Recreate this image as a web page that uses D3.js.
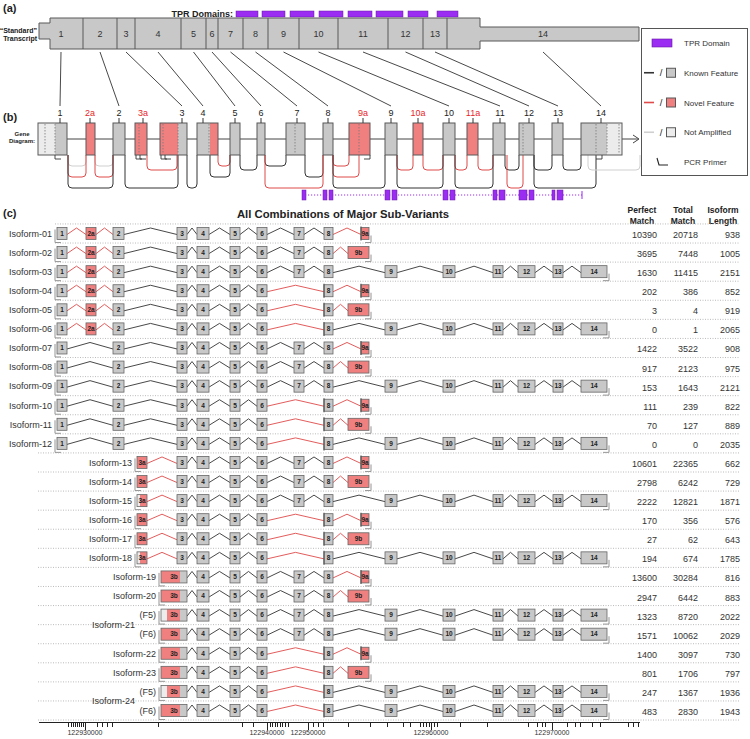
<!DOCTYPE html>
<html><head><meta charset="utf-8">
<script src="https://cdn.jsdelivr.net/npm/d3@7"></script>
<style>body{margin:0;background:#fff} svg{display:block;font-family:"Liberation Sans",Arial,Helvetica,sans-serif}</style>
</head><body><svg id="chart" width="750" height="739"></svg>
<script>
// ---------------- DATA ----------------
// (a) "Standard" transcript (transcript axis units)
const stdExonLabels = ["1","2","3","4","5","6","7","8","9","10","11","12","13","14"];
const stdExonBounds = [-1,43,77,95,141,166,178,203,228,259,298,348,383,407,599];
const stdBody = [10, 440];
const tprDomainsStd = [[196,218],[222,245],[250,274],[279,303],[308,332],[336,363],[368,388],[397,418]];

// (b) gene diagram features (compressed genomic axis units)
const geneFeatureNames = ["1","2a","2","3a","3","4","5","6","7","8","9a","9","10a","10","11a","11","12","13","14"];
const geneFeatureSegments = [
  [[-2,15,"na"],[15,27,"known"]],
  [[46,55,"novel"]],
  [[73,85,"known"]],
  [[95,107,"novel"]],
  [[120,138,"novel"],[138,147,"known"]],
  [[157,170,"known"],[170,178,"novel"]],
  [[190,200,"known"]],
  [[217,225,"known"]],
  [[246,265,"known"]],
  [[283,293,"known"]],
  [[309,330,"novel"]],
  [[345,357,"known"]],
  [[373,383,"novel"]],
  [[403,415,"known"]],
  [[427,438,"novel"]],
  [[453,465,"known"]],
  [[479,494,"known"]],
  [[512,523,"known"]],
  [[541,567,"known"],[567,582,"na"]]
];
const geneFeatureDots = [[5,15],[],[],[99],[123,138],[169],[],[],[255],[],[319],[],[],[],[],[],[483],[],[556,567,579]];
const geneFeatureLabelPos = [20,50,79,103,142,163,195,221,257,288,323,351,378,409,433,460,489,518,561];
const geneFeatureNovel = [0,1,0,1,0,0,0,0,0,0,1,0,1,0,1,0,0,0,0];
// splice junction arcs: [from, to, depth level, type]
const spliceArcs = [
  [28,46,0,"na"],[55,73,0,"na"],
  [28,46,2,"novel"],[55,73,2,"novel"],
  [28,73,3,"known"],
  [107,137,1,"novel"],
  [85,138,3,"known"],
  [147,157,3,"known"],
  [178,190,0,"novel"],
  [170,190,2,"known"],
  [200,217,1,"known"],
  [225,246,0,"known"],
  [265,283,2,"known"],
  [225,283,3,"novel"],
  [293,309,0,"novel"],
  [293,319,2,"novel"],
  [293,345,3,"known"],
  [357,373,1,"novel"],[383,403,1,"novel"],[357,403,3,"known"],
  [415,427,1,"novel"],[438,453,1,"novel"],[415,453,3,"known"],
  [465,479,1,"known"],[467,483,3,"novel"],
  [494,512,1,"known"],[523,541,1,"known"],[494,556,3,"known"],
  [548,600,1,"na"]
];
// PCR primer marks under the gene diagram: [position, direction]
const genePrimers = [[15,1],[96,1],[100,1],[121,1],[125,1],[330,-1],[562,-1]];
const tprDomainsGene = [[262,266],[283,287],[289,293],[345,350],[352,357],[403,408],[410,415],[453,457],[459,465],[479,487],[489,494],[512,515],[517,523]];
const tprGeneSpan = [262,542];

// (c) isoforms
const exonCoords = {
  "1":[17,27],"2a":[46,56],"2":[73,84],"3a":[97,107],"3b":[121,147],"3":[137,147],
  "4":[157,169],"5":[190,200],"6":[217,227],"7":[254,264],"8":[284,293],
  "9a":[321,329],"9b":[308,329],"9":[345,357],"10":[403,415],"11":[453,463],
  "12":[478,495],"13":[513,523],"14":[541,567]
};
const novelExons = ["2a","3a","9a","9b"];
const isoformLabels = ["Isoform-01","Isoform-02","Isoform-03","Isoform-04","Isoform-05","Isoform-06",
  "Isoform-07","Isoform-08","Isoform-09","Isoform-10","Isoform-11","Isoform-12",
  "Isoform-13","Isoform-14","Isoform-15","Isoform-16","Isoform-17","Isoform-18",
  "Isoform-19","Isoform-20","(F5)","(F6)","Isoform-22","Isoform-23","(F5)","(F6)"];
const isoformGroups = [["Isoform-21",20,21],["Isoform-24",24,25]];
const isoformExons = [
  "1 2a 2 3 4 5 6 7 8 9a",
  "1 2a 2 3 4 5 6 7 8 9b",
  "1 2a 2 3 4 5 6 7 8 9 10 11 12 13 14",
  "1 2a 2 3 4 5 6 8 9a",
  "1 2a 2 3 4 5 6 8 9b",
  "1 2a 2 3 4 5 6 8 9 10 11 12 13 14",
  "1 2 3 4 5 6 7 8 9a",
  "1 2 3 4 5 6 7 8 9b",
  "1 2 3 4 5 6 7 8 9 10 11 12 13 14",
  "1 2 3 4 5 6 8 9a",
  "1 2 3 4 5 6 8 9b",
  "1 2 3 4 5 6 8 9 10 11 12 13 14",
  "3a 3 4 5 6 7 8 9a",
  "3a 3 4 5 6 7 8 9b",
  "3a 3 4 5 6 7 8 9 10 11 12 13 14",
  "3a 3 4 5 6 8 9a",
  "3a 3 4 5 6 8 9b",
  "3a 3 4 5 6 8 9 10 11 12 13 14",
  "3b 4 5 6 7 8 9a",
  "3b 4 5 6 7 8 9b",
  "3b 4 5 6 7 8 9 10 11 12 13 14",
  "3b 4 5 6 7 8 9 10 11 12 13 14",
  "3b 4 5 6 8 9a",
  "3b 4 5 6 8 9b",
  "3b 4 5 6 8 9 10 11 12 13 14",
  "3b 4 5 6 8 9 10 11 12 13 14"
];
const notAmplifiedStart = [0,0,0,0,0,0,0,0,0,0,0,0,0,0,1,0,0,1,0,0,1,0,0,0,1,0];
const perfectMatch = [10390,3695,1630,202,3,0,1422,917,153,111,70,0,10601,2798,2222,170,27,194,13600,2947,1323,1571,1400,801,247,483];
const totalMatch = [20718,7448,11415,386,4,1,3522,2123,1643,239,127,0,22365,6242,12821,356,62,674,30284,6442,8720,10062,3097,1706,1367,2830];
const isoformLength = [938,1005,2151,852,919,2065,908,975,2121,822,889,2035,662,729,1871,576,643,1785,816,883,2022,2029,730,797,1936,1943];
const axisMajorPos = [45,227,268,391,512];
const axisMajorLabels = ["122930000","122940000","122950000","122960000","122970000"];
const axisMinorPos = [28,31,33,35,37,39,41,43,57,62,67,72,118,202,213,230,232,235,237,240,242,245,248,273,278,283,308,330,347,363,370,380,383,386,389,394,397,420,447,488,497,502,505,527,535,540,552,560,588,593,598];
const legendItems = ["TPR Domain","Known Feature","Novel Feature","Not Amplified","PCR Primer"];

// ---------------- STYLE ----------------
const COL = {grey:"#c8c8c8", pink:"#f08080", light:"#ececec", stroke:"#585858",
  red:"#e04a4a", redText:"#e8262a", black:"#333", lightLine:"#cfcfcf",
  purple:"#9b2cf2", purpleStroke:"#6a1aa8", text:"#222"};
const fillOf = t => t==="novel" ? COL.pink : t==="na" ? COL.light : COL.grey;
const lineOf = t => t==="novel" ? COL.red : t==="na" ? COL.lightLine : COL.black;

const svg = d3.select("#chart");
const xg = d3.scaleLinear().domain([0,600]).range([40,640]);
const xt = d3.scaleLinear().domain([0,600]).range([40,640]);

function label(g, x, y, txt, opt={}) {
  return g.append("text").attr("x",x).attr("y",y).text(txt)
    .attr("font-size",opt.size||9).attr("font-weight",opt.bold?"bold":"normal")
    .attr("text-anchor",opt.anchor||"start").attr("fill",opt.fill||COL.text);
}

// ---------------- (a) ----------------
const gA = svg.append("g");
label(gA, 3, 12, "(a)", {size:11, bold:true});
label(gA, xt(193), 17, "TPR Domains:", {size:9, bold:true, anchor:"end"});
gA.selectAll("rect.tprA").data(tprDomainsStd).join("rect")
  .attr("x",d=>xt(d[0])).attr("y",11).attr("width",d=>xt(d[1])-xt(d[0])).attr("height",6)
  .attr("fill",COL.purple).attr("stroke",COL.purpleStroke).attr("stroke-width",0.5);
{
  const a0 = xt(stdExonBounds[0]), a1 = xt(stdBody[0]), a2 = xt(stdBody[1]), a3 = xt(stdExonBounds[stdExonBounds.length-1]);
  const p = d3.path();
  p.moveTo(a0,23); p.lineTo(a1,23); p.lineTo(a1,18); p.lineTo(a2,18); p.lineTo(a2,27); p.lineTo(a3,27);
  p.lineTo(a3,41); p.lineTo(a2,41); p.lineTo(a2,49); p.lineTo(a1,49); p.lineTo(a1,39); p.lineTo(a0,39); p.closePath();
  gA.append("path").attr("d",p.toString()).attr("fill",COL.grey).attr("stroke",COL.stroke).attr("stroke-width",1);
  gA.selectAll("line.div").data(stdExonBounds.slice(1,-1)).join("line")
    .attr("x1",d=>xt(d)).attr("x2",d=>xt(d)).attr("y1",18).attr("y2",49).attr("stroke",COL.stroke);
  stdExonLabels.forEach((t,i)=>{
    label(gA, xt((stdExonBounds[i]+stdExonBounds[i+1])/2), 37, t, {anchor:"middle", fill:"#333"});
  });
  label(gA, 37, 33, "\u201CStandard\u201D", {size:7, bold:true, anchor:"end"});
  label(gA, 37, 41, "Transcript", {size:7, bold:true, anchor:"end"});
}

// connectors (a) -> (b)
stdExonLabels.forEach((t,i)=>{
  const j = geneFeatureNames.indexOf(t);
  svg.append("line").attr("x1",xt((stdExonBounds[i]+stdExonBounds[i+1])/2)).attr("y1",52)
    .attr("x2",xg(geneFeatureLabelPos[j])).attr("y2",106).attr("stroke","#333").attr("stroke-width",0.9);
});

// ---------------- (b) ----------------
const gB = svg.append("g");
label(gB, 3, 121, "(b)", {size:11, bold:true});
label(gB, 22, 136, "Gene", {size:6, bold:true, anchor:"middle"});
label(gB, 22, 143, "Diagram:", {size:6, bold:true, anchor:"middle"});
const bTop = 123, bBot = 155, bMid = 139;
gB.append("line").attr("x1",xg(-2)).attr("x2",xg(598)).attr("y1",bMid).attr("y2",bMid).attr("stroke","#444");
gB.append("path").attr("d",`M${xg(593)},${bMid-4}L${xg(599)},${bMid}L${xg(593)},${bMid+4}`).attr("fill","none").attr("stroke","#444");
// arcs
const arcDepth = d3.scaleOrdinal().domain([0,1,2,3]).range([166,170,177,188]);
spliceArcs.forEach(([a,b,lev,t])=>{
  const xa=xg(a), xb=xg(b), yd=arcDepth(lev), r=Math.min(4,(xb-xa)/2);
  const p=d3.path();
  p.moveTo(xa,bBot); p.lineTo(xa,yd-r); p.quadraticCurveTo(xa,yd,xa+r,yd); p.lineTo(xb-r,yd);
  p.quadraticCurveTo(xb,yd,xb,yd-r); p.lineTo(xb,bBot);
  gB.append("path").attr("d",p.toString()).attr("fill","none").attr("stroke",lineOf(t)).attr("stroke-width",1);
});
geneFeatureNames.forEach((nm,i)=>{
  const segs = geneFeatureSegments[i];
  segs.forEach(s=>{
    gB.append("rect").attr("x",xg(s[0])).attr("y",bTop).attr("width",xg(s[1])-xg(s[0])).attr("height",bBot-bTop)
      .attr("fill",fillOf(s[2]));
  });
  geneFeatureDots[i].forEach(d=>{
    gB.append("line").attr("x1",xg(d)).attr("x2",xg(d)).attr("y1",bTop+1).attr("y2",bBot-1)
      .attr("stroke","#777").attr("stroke-width",0.8).attr("stroke-dasharray","1.5,1.5");
  });
  const s0=segs[0][0], s1=segs[segs.length-1][1];
  gB.append("rect").attr("x",xg(s0)).attr("y",bTop).attr("width",xg(s1)-xg(s0)).attr("height",bBot-bTop)
    .attr("fill","none").attr("stroke",COL.stroke).attr("stroke-width",1);
  const lx = xg(geneFeatureLabelPos[i]);
  gB.append("line").attr("x1",lx).attr("x2",lx).attr("y1",118).attr("y2",bTop).attr("stroke","#333");
  label(gB, lx, 116, nm, {anchor:"middle", fill: geneFeatureNovel[i]?COL.redText:"#222"});
});
genePrimers.forEach(([x,dir])=>{
  const px=xg(x);
  gB.append("path").attr("d",`M${px},${bBot}V${bBot+4}H${px+dir*6}`).attr("fill","none").attr("stroke","#333").attr("stroke-width",0.9);
});
// TPR track under gene
gB.append("line").attr("x1",xg(tprGeneSpan[0])).attr("x2",xg(tprGeneSpan[1])).attr("y1",195).attr("y2",195)
  .attr("stroke",COL.purple).attr("stroke-dasharray","1.2,1.8");
gB.append("line").attr("x1",xg(tprGeneSpan[1])).attr("x2",xg(tprGeneSpan[1])).attr("y1",191).attr("y2",199).attr("stroke",COL.purple);
gB.selectAll("rect.tprB").data(tprDomainsGene).join("rect")
  .attr("x",d=>xg(d[0])).attr("y",190).attr("width",d=>xg(d[1])-xg(d[0])).attr("height",10)
  .attr("fill",COL.purple).attr("stroke",COL.purpleStroke).attr("stroke-width",0.5);

// ---------------- legend ----------------
const gL = svg.append("g");
gL.append("rect").attr("x",641.5).attr("y",28.5).attr("width",106).attr("height",147).attr("fill","#fff").attr("stroke","#555");
const legY = d3.scalePoint().domain(legendItems).range([43,162]);
legendItems.forEach((it,i)=>{
  const y = legY(it);
  if (i===0) {
    gL.append("rect").attr("x",652).attr("y",y-4).attr("width",20).attr("height",8).attr("fill",COL.purple).attr("stroke",COL.purpleStroke).attr("stroke-width",0.6);
  } else if (i<4) {
    const t = ["known","novel","na"][i-1];
    gL.append("line").attr("x1",644).attr("x2",654).attr("y1",y).attr("y2",y).attr("stroke",lineOf(t)).attr("stroke-width",1.6);
    label(gL, 661, y+3.5, "/", {anchor:"middle", size:9.5});
    gL.append("rect").attr("x",666.5).attr("y",y-4.5).attr("width",9).attr("height",9).attr("fill",fillOf(t)).attr("stroke",COL.stroke);
  } else {
    gL.append("path").attr("d",`M657,${y-4}L659,${y+3}H668`).attr("fill","none").attr("stroke","#222").attr("stroke-width",1.1);
  }
  label(gL, 684, y+3, it, {size:8, fill:"#333"});
});

// ---------------- (c) ----------------
const gC = svg.append("g");
label(gC, 3, 217, "(c)", {size:11, bold:true});
label(gC, 343, 218, "All Combinations of Major Sub-Variants", {size:11.3, bold:true, anchor:"middle"});
const colX = [657, 698, 740];
const headers = [["Perfect","Match"],["Total","Match"],["Isoform","Length"]];
headers.forEach((h,i)=>{
  label(gC, colX[i]-15+ (i===2?-2:0), 213, h[0], {size:8.5, bold:true, anchor:"middle"});
  label(gC, colX[i]-15+ (i===2?-2:0), 224, h[1], {size:8.5, bold:true, anchor:"middle"});
});
const yRow = d3.scalePoint().domain(d3.range(isoformLabels.length)).range([233.5,710.5]);
const rowStep = yRow.step();

function segsFor(name, r) {
  const [s,e] = exonCoords[name];
  if (name==="3b") return notAmplifiedStart[r] ? [[s,s+6,"na"],[s+6,140,"novel"],[140,e,"known"]] : [[s,140,"novel"],[140,e,"known"]];
  if (name==="3a" && notAmplifiedStart[r]) return [[s,s+3,"na"],[s+3,e,"novel"]];
  return [[s,e, novelExons.includes(name)?"novel":"known"]];
}

isoformExons.forEach((str, r)=>{
  const ex = str.split(" ");
  const c = yRow(r);
  const first = exonCoords[ex[0]];
  // separator above
  const sepStart = ex[0]==="1" ? xg(first[0])-2 : 38;
  gC.append("line").attr("x1",sepStart).attr("x2",740).attr("y1",c-rowStep/2).attr("y2",c-rowStep/2)
    .attr("stroke","#aaa").attr("stroke-width",0.8).attr("stroke-dasharray","1,1.5");
  // introns
  for (let k=0;k<ex.length-1;k++){
    const a=exonCoords[ex[k]][1], b=exonCoords[ex[k+1]][0];
    const novel = novelExons.includes(ex[k])||novelExons.includes(ex[k+1])||(ex[k]==="6"&&ex[k+1]==="8");
    gC.append("path").attr("d",`M${xg(a)},${c+1}L${xg((a+b)/2)},${c-5.5}L${xg(b)},${c+1}`)
      .attr("fill","none").attr("stroke",novel?COL.red:COL.black).attr("stroke-width",0.9);
  }
  // exons
  ex.forEach((nm,k)=>{
    const segs = segsFor(nm, r);
    segs.forEach(s=>{
      gC.append("rect").attr("x",xg(s[0])).attr("y",c-6).attr("width",xg(s[1])-xg(s[0])).attr("height",12).attr("fill",fillOf(s[2]));
    });
    const [s0,s1] = exonCoords[nm];
    gC.append("rect").attr("x",xg(s0)).attr("y",c-6).attr("width",xg(s1)-xg(s0)).attr("height",12)
      .attr("fill","none").attr("stroke","#666").attr("stroke-width",0.8);
    if ((nm==="8" && ex[k-1]==="6") || nm==="9a") {
      gC.append("line").attr("x1",xg(s0)).attr("x2",xg(s0)).attr("y1",c-7).attr("y2",c+7).attr("stroke","#555").attr("stroke-width",1.2);
    }
    label(gC, xg((s0+s1)/2), c+2.3, nm, {size:6.5, bold:true, anchor:"middle", fill:"#222"});
  });
  // primers
  const fx = xg(first[0]);
  gC.append("path").attr("d",`M${fx-2},${c-4}V${c+9}H${fx+4}`).attr("fill","none").attr("stroke","#888").attr("stroke-width",0.9);
  const lx = xg(exonCoords[ex[ex.length-1]][1]);
  gC.append("path").attr("d",`M${lx+2},${c+2}V${c+9}H${lx-4}`).attr("fill","none").attr("stroke","#888").attr("stroke-width",0.9);
  // labels
  label(gC, fx-5, c+3.3, isoformLabels[r], {size:9, anchor:"end", fill:"#333"});
  [perfectMatch[r], totalMatch[r], isoformLength[r]].forEach((v,i)=>{
    label(gC, colX[i], c+4.5, v, {size:9, anchor:"end", fill:"#333"});
  });
});
isoformGroups.forEach(([t,a,b])=>{
  const fx = xg(exonCoords[isoformExons[a].split(" ")[0]][0]);
  label(gC, fx-26, (yRow(a)+yRow(b))/2+3.3, t, {size:9, anchor:"end", fill:"#333"});
});
// bottom separator
const yLast = yRow(isoformLabels.length-1)+rowStep/2;
gC.append("line").attr("x1",38).attr("x2",740).attr("y1",yLast).attr("y2",yLast)
  .attr("stroke","#aaa").attr("stroke-width",0.8).attr("stroke-dasharray","1,1.5");

// axis
const axisY = 722.5;
const gAx = svg.append("g").attr("transform",`translate(0,${axisY})`).attr("shape-rendering","crispEdges");
gAx.append("line").attr("x1",xg(-1)).attr("x2",xg(600)).attr("y1",0).attr("y2",0).attr("stroke","#222");
gAx.selectAll("line.minor").data(axisMinorPos).join("line")
  .attr("x1",d=>Math.round(xg(d))+0.5).attr("x2",d=>Math.round(xg(d))+0.5).attr("y1",0).attr("y2",4).attr("stroke","#222").attr("stroke-width",1);
gAx.selectAll("line.major").data(axisMajorPos).join("line")
  .attr("x1",d=>Math.round(xg(d))+0.5).attr("x2",d=>Math.round(xg(d))+0.5).attr("y1",0).attr("y2",7).attr("stroke","#222").attr("stroke-width",1);
axisMajorPos.forEach((p,i)=>label(gAx, xg(p), 12.5, axisMajorLabels[i], {size:7, anchor:"middle", fill:"#333"}));
</script></body></html>
